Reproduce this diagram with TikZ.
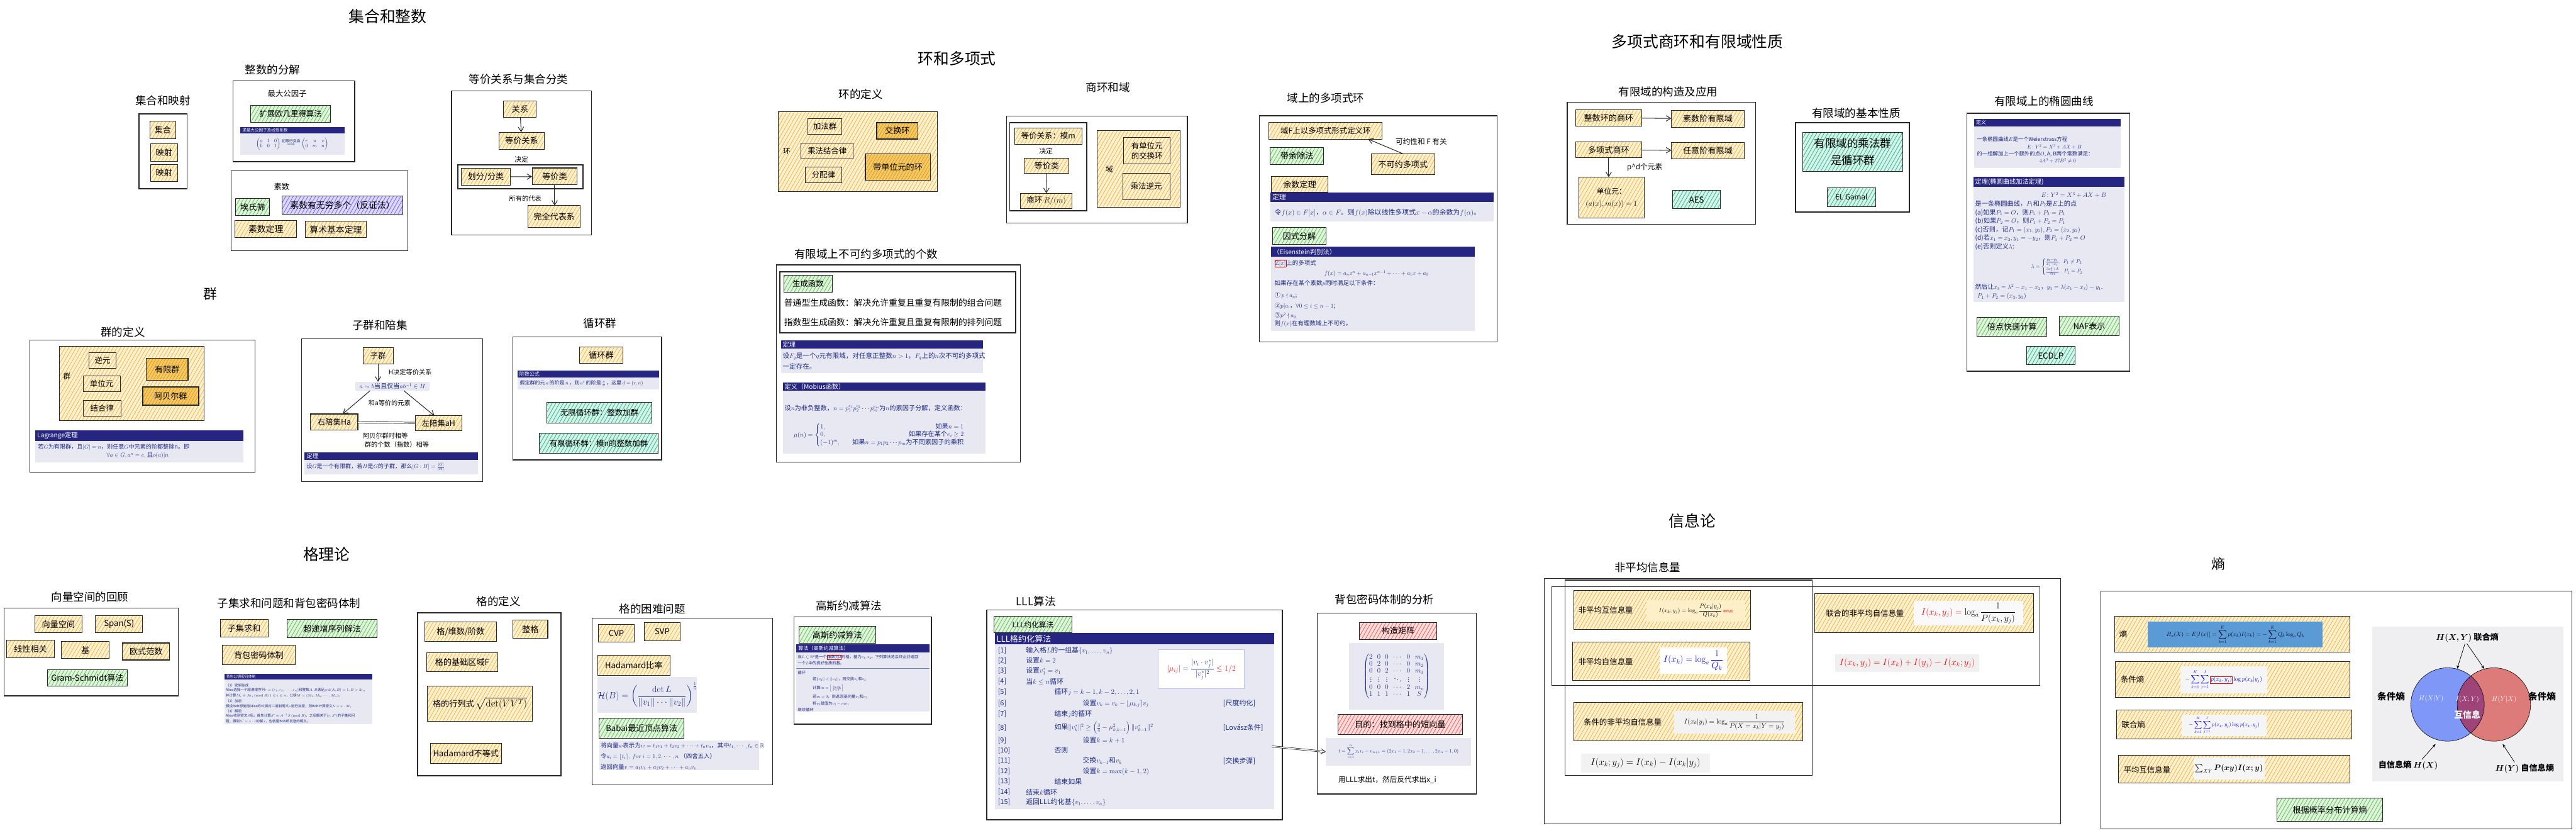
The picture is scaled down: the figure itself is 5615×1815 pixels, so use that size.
\RequirePackage{fix-cm}
\documentclass[tikz,border=0pt]{standalone}
\usepackage{amsmath,amssymb}
\usepackage[no-math]{fontspec}
\setmainfont{Noto Sans CJK SC}
\usetikzlibrary{arrows.meta,patterns.meta,calc}
\definecolor{obg}{HTML}{FDF1D2}
\definecolor{oh}{HTML}{F4B43A}
\definecolor{sobg}{HTML}{F8C85C}
\definecolor{gbg}{HTML}{E0F4DA}
\definecolor{gh}{HTML}{5BBF5E}
\definecolor{tbg}{HTML}{D4F3E9}
\definecolor{th}{HTML}{2FB48C}
\definecolor{pbg}{HTML}{DCD8FB}
\definecolor{ph}{HTML}{7361EA}
\definecolor{rbg}{HTML}{FDDCDC}
\definecolor{rh}{HTML}{EE5A5A}
\definecolor{navy}{HTML}{262682}
\definecolor{lav}{HTML}{E8E8F3}
\definecolor{tbl}{HTML}{1D2B80}
\definecolor{vgray}{HTML}{EFEFF2}
\definecolor{vblue}{HTML}{7F97F7}
\definecolor{vred}{HTML}{DD7B7B}
\definecolor{vpur}{HTML}{9E4478}
\definecolor{hblue}{HTML}{5B9BD5}
\definecolor{peach}{HTML}{FDEFC8}
\newcommand\fs[1]{\fontsize{#1}{#1}\selectfont}
\newcommand\bx[7]{\pgfmathsetmacro\qqw{#5-#3}\pgfmathsetmacro\qqh{#6-#4}\pgfmathsetmacro\qqx{(#3+#5)/2}\pgfmathsetmacro\qqy{(#4+#6)/2}\node[#1,minimum width=\qqw pt,minimum height=\qqh pt] (#2) at (\qqx,\qqy) {#7};}
\newcommand\thmbox[7]{\fill[navy] (#2,#3) rectangle (#4,#5);\node[anchor=west,text=white,font=\fs{#6},inner sep=0] (#1) at ({#2+4},{(#3+#5)/2}) {#7};}
\tikzset{
 hb/.style={draw=black!85,line width=1.4pt,inner sep=1pt,outer sep=0pt,align=center,font=\fs{18}},
 frame/.style={draw=black!85,line width=2pt,inner sep=0,outer sep=0},
 obox/.style={hb,preaction={fill=obg},pattern={Lines[angle=60,distance=7pt,line width=1.1pt]},pattern color=oh},
 sobox/.style={hb,line width=2pt,preaction={fill=sobg},pattern={Lines[angle=60,distance=6pt,line width=0.8pt]},pattern color=oh!80!black},
 gbox/.style={hb,preaction={fill=gbg},pattern={Lines[angle=60,distance=7pt,line width=1.1pt]},pattern color=gh},
 tbox/.style={hb,preaction={fill=tbg},pattern={Lines[angle=60,distance=7pt,line width=1.1pt]},pattern color=th},
 pbox/.style={hb,preaction={fill=pbg},pattern={Lines[angle=60,distance=7pt,line width=1.1pt]},pattern color=ph},
 rbox/.style={hb,preaction={fill=rbg},pattern={Lines[angle=60,distance=7pt,line width=1.1pt]},pattern color=rh},
 wbox/.style={hb},
 ttl/.style={font=\fs{34},inner sep=0},
 sub/.style={font=\fs{24},inner sep=0},
 lbl/.style={font=\fs{17},inner sep=0},
 tl/.style={anchor=west,text=tbl,inner sep=0},
 arr/.style={-{Straight Barb[length=10pt,width=12pt]},line width=1.4pt,draw=black!85},
}
\begin{document}
\begin{tikzpicture}[x=1pt,y=-1pt]
\useasboundingbox[fill=white] (0,0) rectangle (5615,1815);
% ================= 集合和整数
\node[ttl] (t1) at (845,36) {集合和整数};
\node[sub] (t1a) at (355,219) {集合和映射};
\bx{frame}{f1a}{303}{248}{408}{411}{}
\bx{obox}{a1}{327}{264}{383}{302}{集合}
\bx{obox}{a2}{328}{313}{387}{351}{映射}
\bx{obox}{a3}{328}{358}{387}{395}{映射}
\node[sub] (t1b) at (594,152) {整数的分解};
\bx{frame}{f1b}{508}{176}{773}{352}{}
\node[lbl] (b0) at (626,204) {最大公因子};
\bx{gbox,font=\fs{17}}{b1}{546}{230}{721}{266}{扩展欧几里得算法}
\fill[lav] (524,291) rectangle (751,337);
\thmbox{b2}{524}{277}{751}{291}{9}{求最大公因子及线性系数}
\node[text=tbl,font=\fs{11},inner sep=0] (b3) at (637,314) {$\begin{pmatrix}a&1&0\\b&0&1\end{pmatrix}\overset{\mbox{\fs{8}初等行变换}}{\Longrightarrow}\begin{pmatrix}r&u&v\\0&m&n\end{pmatrix}$};
\bx{frame}{f1c}{504}{372}{889}{546}{}
\node[lbl] (c0) at (614,407) {素数};
\bx{gbox}{c1}{514}{433}{588}{469}{埃氏筛}
\bx{pbox,font=\fs{19}}{c2}{615}{427}{878}{467}{素数有无穷多个（反证法）}
\bx{obox,font=\fs{19}}{c3}{512}{481}{647}{518}{素数定理}
\bx{obox,font=\fs{19}}{c4}{665}{482}{799}{518}{算术基本定理}
\node[sub] (t1d) at (1130,173) {等价关系与集合分类};
\bx{frame}{f1d}{984}{198}{1289}{512}{}
\bx{obox}{d1}{1098}{220}{1169}{256}{关系}
\bx{obox}{d2}{1088}{288}{1186}{325}{等价关系}
\draw[arr] (d1) -- (d2);
\node[lbl,font=\fs{15}] (d3) at (1137,347) {决定};
\bx{frame}{f1e}{998}{359}{1271}{411}{}
\bx{obox}{d4}{1005}{367}{1113}{404}{划分/分类}
\bx{obox}{d5}{1160}{366}{1258}{403}{等价类}
\draw[arr] (d4) -- (d5);
\bx{obox}{d6}{1151}{448}{1265}{496}{完全代表系}
\draw[arr] (d5.south) -- (d5.south |- d6.north);
\node[lbl,font=\fs{14}] (d7) at (1145,433) {所有的代表};
% ================= 群
\node[ttl,font=\fs{30}] (t2) at (459,640) {群};
\node[sub] (t2a) at (268,724) {群的定义};
\bx{frame}{f2a}{65}{741}{556}{1029}{}
\bx{obox}{e0}{130}{755}{445}{917}{}
\node[lbl,font=\fs{16}] (e0l) at (146,820) {群};
\bx{wbox,font=\fs{17}}{e1}{194}{768}{253}{803}{逆元}
\bx{wbox,font=\fs{17}}{e2}{181}{819}{262}{854}{单位元}
\bx{wbox,font=\fs{17}}{e3}{181}{872}{264}{907}{结合律}
\bx{sobox}{e4}{319}{781}{410}{829}{有限群}
\bx{sobox}{e5}{311}{843}{433}{883}{阿贝尔群}
\fill[lav] (77,961) rectangle (530,1007);
\thmbox{e6}{77}{938}{530}{961}{14}{Lagrange定理}
\node[tl,font=\fs{12.5}] (e7) at (83,975) {若$G$为有限群，且$|G|=n$，则任意$G$中元素的阶都整除n。即};
\node[text=tbl,font=\fs{13},inner sep=0] (e8) at (300,993) {$\forall a\in G, a^n=e,$ 且$o(a)|n$};
\node[sub] (t2b) at (828,708) {子群和陪集};
\bx{frame}{f2b}{657}{738}{1052}{1049}{}
\bx{obox,font=\fs{17}}{g1}{791}{758}{857}{793}{子群}
\bx{fill=lav,text=tbl,font=\fs{14},inner sep=0}{g2}{775}{832}{936}{851}{$a\sim b$当且仅当$ab^{-1}\in H$}
\draw[arr] (g1.south) -- (g1.south |- g2.north);
\node[lbl,font=\fs{14}] (g3) at (894,811) {H决定等价关系};
\bx{obox,font=\fs{17}}{g4}{677}{902}{780}{937}{右陪集Ha}
\bx{obox,font=\fs{17}}{g5}{905}{906}{1007}{938}{左陪集aH}
\draw[arr] ($(g2.south west)+(32,0)$) -- ($(g4.north east)+(-33,0)$);
\draw[arr] ($(g2.south east)+(-56,0)$) -- ($(g5.north west)+(42,0)$);
\node[lbl,font=\fs{14}] (g6) at (849,878) {和a等价的元素};
\draw[double,line width=1pt,double distance=2pt] (g4) -- (g5);
\node[lbl,font=\fs{14}] (g7) at (840,950) {阿贝尔群时相等};
\node[lbl,font=\fs{14}] (g8) at (865,969) {群的个数（指数）相等};
\fill[lav] (664,1002) rectangle (1042,1033);
\thmbox{g9}{664}{985}{1042}{1002}{13}{定理}
\node[tl,font=\fs{12.5}] (g10) at (668,1018) {设$G$是一个有限群，若$H$是$G$的子群，那么$[G:H]=\frac{|G|}{|H|}$};
% 循环群
\node[sub] (t2c) at (1308,705) {循环群};
\bx{frame}{f2c}{1118}{734}{1442}{1002}{}
\bx{obox}{h1}{1263}{756}{1358}{791}{循环群}
\fill[lav] (1128,823) rectangle (1437,849);
\thmbox{h2}{1128}{807}{1437}{823}{11}{阶数公式}
\node[tl,font=\fs{11}] (h3) at (1133,836) {假定群的元$\,a\,$的阶是$\,n\,$，则$\,a^r\,$的阶是$\,\frac{n}{d}\,$，这里$\,d=(r,n)$};
\bx{tbox,font=\fs{17}}{h4}{1192}{876}{1421}{922}{无限循环群：整数加群}
\bx{tbox,font=\fs{17}}{h5}{1176}{944}{1434}{988}{有限循环群：模n的整数加群}
% ================= 环和多项式
\node[ttl] (t3) at (2086,127) {环和多项式};
\node[sub] (t3a) at (1876,206) {环的定义};
\bx{obox}{i0}{1697}{243}{2043}{417}{}
\node[lbl,font=\fs{16}] (i0l) at (1715,329) {环};
\bx{wbox,font=\fs{17}}{i1}{1761}{258}{1835}{293}{加法群}
\bx{wbox,font=\fs{17}}{i2}{1746}{312}{1860}{346}{乘法结合律}
\bx{wbox,font=\fs{17}}{i3}{1755}{364}{1835}{398}{分配律}
\bx{sobox}{i4}{1911}{267}{2001}{303}{交换环}
\bx{sobox}{i5}{1886}{335}{2028}{393}{带单位元的环}
\node[sub] (t3b) at (2415,190) {商环和域};
\bx{frame}{f3b}{2194}{253}{2588}{486}{}
\bx{frame}{f3c}{2201}{267}{2369}{459}{}
\bx{obox,font=\fs{17}}{j1}{2212}{279}{2358}{314}{等价关系：模m}
\node[lbl,font=\fs{15}] (j2) at (2280,329) {决定};
\bx{obox}{j3}{2233}{345}{2330}{378}{等价类}
\bx{obox,font=\fs{17}}{j4}{2224}{421}{2337}{454}{商环 $R/(m)$}
\draw[arr] (j3) -- (j4);
\bx{obox}{j5}{2392}{285}{2572}{452}{}
\node[lbl,font=\fs{16}] (j5l) at (2418,369) {域};
\bx{wbox,font=\fs{17}}{j6}{2449}{300}{2551}{357}{有单位元\\[4pt]的交换环}
\bx{wbox,font=\fs{17}}{j7}{2447}{377}{2550}{435}{乘法逆元}
\node[sub] (t3c) at (1888,554) {有限域上不可约多项式的个数};
\bx{frame}{f3d}{1692}{577}{2224}{1007}{}
\bx{frame}{f3e}{1700}{592}{2214}{725}{}
\bx{gbox,font=\fs{17}}{k1}{1709}{600}{1814}{637}{生成函数}
\node[anchor=west,inner sep=0,font=\fs{19}] (k2) at (1709,660) {普通型生成函数：解决允许重复且重复有限制的组合问题};
\node[anchor=west,inner sep=0,font=\fs{19}] (k3) at (1709,702) {指数型生成函数：解决允许重复且重复有限制的排列问题};
\fill[lav] (1702,760) rectangle (2143,813);
\thmbox{k4}{1702}{741}{2143}{760}{14}{定理}
\node[tl,font=\fs{14.5}] (k5) at (1706,776) {设$F_q$是一个$q$元有限域，对任意正整数$n>1$，$F_q$上的$n$次不可约多项式};
\node[tl,font=\fs{14.5}] (k6) at (1706,798) {一定存在。};
\fill[lav] (1706,851) rectangle (2148,988);
\thmbox{k7}{1706}{833}{2148}{851}{14}{定义（Mobius函数）}
\node[tl,font=\fs{14}] (k8) at (1710,890) {设$n$为非负整数，$n=p_1^{e_1}p_2^{e_2}\cdots p_m^{e_m}$为$n$的素因子分解，定义函数：};
\node[tl,font=\fs{14}] (k9) at (1730,948) {$\mu(n)=\begin{cases}1, & \hfill\text{如果}n=1\\ 0, & \hfill\text{如果存在某个}e_i\geq 2\\ (-1)^m, & \quad\text{如果}n=p_1p_2\cdots p_m\text{为不同素因子的乘积}\end{cases}$};
% 域上的多项式环
\node[sub] (t3d) at (2890,214) {域上的多项式环};
\bx{frame}{f3f}{2745}{252}{3263}{745}{}
\bx{obox,font=\fs{17}}{m1}{2766}{267}{3013}{303}{域F上以多项式形式定义环}
\bx{gbox}{m2}{2769}{321}{2885}{358}{带余除法}
\bx{obox}{m3}{2989}{335}{3127}{381}{不可约多项式}
\draw[arr] (m3.north) -- ($(m1.south east)+(-31,0)$);
\node[lbl,font=\fs{16}] (m4) at (3098,308) {可约性和 F 有关};
\bx{obox}{m5}{2771}{385}{2895}{419}{余数定理}
\fill[lav] (2769,440) rectangle (3256,483);
\thmbox{m6}{2769}{419}{3256}{440}{15}{定理}
\node[tl,font=\fs{15}] (m7) at (2778,463) {令$f(x)\in F[x]$，$\alpha\in F$。则$f(x)$除以线性多项式$x-\alpha$的余数为$f(\alpha)$。};
\bx{gbox}{m8}{2774}{496}{2890}{533}{因式分解}
\fill[lav] (2771,559) rectangle (3214,721);
\thmbox{m9}{2771}{538}{3214}{559}{14}{（Eisenstein判别法）}
\node[tl,font=\fs{13}] (m10) at (2778,574) {{\fboxsep=1pt\fcolorbox{red}{lav}{$\mathbb{Z}[x]$}}上的多项式};
\node[text=tbl,inner sep=0,font=\fs{13}] (m11) at (3000,596) {$f(x)=a_nx^n+a_{n-1}x^{n-1}+\cdots+a_1x+a_0$};
\node[tl,font=\fs{13}] (m12) at (2778,617) {如果存在某个素数$p$同时满足以下条件：};
\node[tl,font=\fs{13}] (m13) at (2778,644) {①$\,p\nmid a_n$;};
\node[tl,font=\fs{13}] (m14) at (2778,667) {②$p|a_i$，$\forall 0\leq i\leq n-1$;};
\node[tl,font=\fs{13}] (m15) at (2778,688) {③$p^2\nmid a_0$};
\node[tl,font=\fs{13}] (m16) at (2778,705) {则$f(x)$在有理数域上不可约。};
% ================= 多项式商环和有限域性质
\node[ttl] (t4) at (3700,90) {多项式商环和有限域性质};
\node[sub] (t4a) at (3636,200) {有限域的构造及应用};
\bx{frame}{f4a}{3416}{223}{3827}{489}{}
\bx{obox}{n1}{3435}{239}{3578}{275}{整数环的商环}
\bx{obox}{n2}{3643}{240}{3802}{277}{素数阶有限域}
\bx{obox}{n3}{3435}{309}{3578}{344}{多项式商环}
\bx{obox}{n4}{3643}{310}{3802}{346}{任意阶有限域}
\draw[arr] (n1) -- (n2);
\draw[arr] (n3) -- (n4);
\bx{obox,font=\fs{16}}{n5}{3441}{386}{3584}{475}{单位元：\\[10pt]$(a(x),m(x))=1$}
\draw[arr] (n3.south) -- (n3.south |- n5.north);
\node[lbl,font=\fs{16}] (n6) at (3585,364) {p\^{}d个元素};
\bx{tbox}{n7}{3646}{415}{3750}{455}{AES}
\node[sub] (t4b) at (4046,246) {有限域的基本性质};
\bx{frame}{f4b}{3914}{267}{4162}{462}{}
\bx{tbox,font=\fs{24}}{n8}{3930}{288}{4147}{374}{有限域的乘法群\\[12pt]是循环群}
\bx{tbox,font=\fs{16}}{n9}{3983}{409}{4088}{450}{EL Gamal}
\node[sub] (t4c) at (4455,221) {有限域上的椭圆曲线};
\bx{frame}{f4c}{4287}{247}{4642}{809}{}
\fill[lav] (4303,275) rectangle (4623,366);
\thmbox{q1}{4303}{259}{4623}{275}{11}{定义}
\node[tl,font=\fs{11.5}] (q2) at (4309,304) {一条椭圆曲线$E$是一个Weierstrass方程};
\node[text=tbl,inner sep=0,font=\fs{11.5}] (q3) at (4478,320) {$E\colon Y^2=X^3+AX+B$};
\node[tl,font=\fs{11.5}] (q4) at (4309,336) {的一组解加上一个额外的点$O$, A, B两个常数满足：};
\node[text=tbl,inner sep=0,font=\fs{11.5}] (q5) at (4485,351) {$4A^3+27B^2\neq 0$};
\fill[lav] (4301,407) rectangle (4630,658);
\thmbox{q6}{4301}{385}{4630}{407}{14}{定理(椭圆曲线加法定理)}
\node[text=tbl,inner sep=0,font=\fs{14}] (q7) at (4520,425) {$E\colon Y^2=X^3+AX+B$};
\node[tl,font=\fs{14}] (q8) at (4305,444) {是一条椭圆曲线，$P_1$和$P_2$是$E$上的点};
\node[tl,font=\fs{14}] (q9) at (4305,463) {(a)如果$P_1=O$，则$P_1+P_2=P_2$};
\node[tl,font=\fs{14}] (q10) at (4305,482) {(b)如果$P_2=O$，则$P_1+P_2=P_1$};
\node[tl,font=\fs{14}] (q11) at (4305,501) {(c)否则，记$P_1=(x_1,y_1),P_2=(x_2,y_2)$};
\node[tl,font=\fs{14}] (q12) at (4305,519) {(d)若$x_1=x_2,y_1=-y_2$，则$P_1+P_2=O$};
\node[tl,font=\fs{14}] (q13) at (4305,538) {(e)否则定义$\lambda$:};
\node[text=tbl,inner sep=0,font=\fs{12}] (q14) at (4490,582) {$\lambda=\begin{cases}\frac{y_2-y_1}{x_2-x_1},\ \ P_1\neq P_2\\[4pt] \frac{3x_1^2+A}{2y_1},\ \ P_1=P_2\end{cases}$};
\node[tl,font=\fs{13.5}] (q15) at (4305,626) {然后让$x_3=\lambda^2-x_1-x_2$，$y_3=\lambda(x_1-x_3)-y_1$.};
\node[tl,font=\fs{14}] (q16) at (4310,646) {$P_1+P_2=(x_3,y_3)$};
\bx{gbox}{q17}{4309}{691}{4462}{733}{倍点快速计算}
\bx{gbox}{q18}{4489}{689}{4619}{732}{NAF表示}
\bx{tbox}{q19}{4417}{755}{4523}{795}{ECDLP}
% ================= 格理论
\node[ttl] (t5) at (712,1208) {格理论};
\node[sub] (t5a) at (196,1300) {向量空间的回顾};
\bx{frame}{f5a}{9}{1325}{389}{1516}{}
\bx{obox}{r1}{76}{1342}{179}{1379}{向量空间}
\bx{obox}{r2}{208}{1341}{311}{1378}{Span(S)}
\bx{obox}{r3}{15}{1395}{118}{1433}{线性相关}
\bx{obox}{r4}{134}{1398}{238}{1435}{基}
\bx{obox}{r5}{267}{1401}{370}{1438}{欧式范数}
\bx{gbox}{r6}{103}{1459}{278}{1495}{Gram-Schmidt算法}
\node[sub] (t5b) at (630,1315) {子集求和问题和背包密码体制};
\bx{obox}{s1}{480}{1350}{584}{1388}{子集求和}
\bx{gbox}{s2}{626}{1349}{822}{1390}{超递增序列解法}
\bx{obox}{s3}{484}{1406}{644}{1448}{背包密码体制}
\fill[lav] (489,1480) rectangle (812,1578);
\thmbox{s4}{489}{1468}{812}{1480}{8}{背包公钥密码体制}
\node[tl,font=\fs{7.6}] (s5) at (492,1493) {（1）密钥生成};
\node[tl,font=\fs{7.6}] (s6) at (492,1504) {Alice选择一个超递增序列$r=(r_1,r_2,\cdots,r_n)$和整数$A,B$满足$\gcd(A,B)=1,B>2r_n$};
\node[tl,font=\fs{7.6}] (s7) at (492,1516) {并计算$M_i\equiv Ar_i\ (\mathrm{mod}\ B)\ 1\leq i\leq n$，公钥$M=(M_1,M_2,\cdots,M_n)$。};
\node[tl,font=\fs{7.6}] (s8) at (492,1527) {（2）加密};
\node[tl,font=\fs{7.6}] (s9) at (492,1538) {假设Bob想使用Alice的公钥对二进制明文$x$进行加密，则Bob计算密文$S=x\cdot M$。};
\node[tl,font=\fs{7.6}] (s10) at (492,1549) {（3）解密};
\node[tl,font=\fs{7.6}] (s11) at (492,1560) {Alice收到密文$S$后，首先计算$S'\equiv A^{-1}S\ (\mathrm{mod}\ B)$，之后解关于$(r,S')$的子集和问};
\node[tl,font=\fs{7.6}] (s12) at (492,1571) {题，得到$S'=x\cdot r$的解$x$，也就是Bob所发送的明文。};
\node[sub] (t5c) at (1087,1310) {格的定义};
\bx{frame}{f5c}{910}{1335}{1223}{1690}{}
\bx{obox}{u1}{926}{1355}{1082}{1398}{格/维数/阶数}
\bx{obox}{u2}{1118}{1351}{1194}{1391}{整格}
\bx{obox}{u3}{930}{1422}{1085}{1464}{格的基础区域F}
\bx{obox}{u4}{932}{1495}{1160}{1572}{格的行列式\ \fs{22}$\sqrt{\det(VV^T)}$}
\bx{obox}{u5}{938}{1620}{1093}{1664}{Hadamard不等式}
\node[sub] (t5d) at (1422,1327) {格的困难问题};
\bx{frame}{f5d}{1291}{1347}{1684}{1710}{}
\bx{obox}{w1}{1304}{1360}{1383}{1399}{CVP}
\bx{obox}{w2}{1404}{1356}{1483}{1396}{SVP}
\bx{obox}{w3}{1303}{1428}{1460}{1472}{Hadamard比率}
\bx{fill=lav,text=tbl,font=\fs{20},inner sep=0}{w4}{1304}{1475}{1518}{1553}{$\mathcal{H}(B)=\left(\dfrac{\det L}{\|v_1\|\cdots\|v_2\|}\right)^{\frac{1}{n}}$}
\bx{gbox}{w5}{1306}{1565}{1491}{1609}{Babai最近顶点算法}
\fill[lav] (1306,1613) rectangle (1655,1678);
\node[tl,font=\fs{13}] (w6) at (1309,1625) {将向量$w$表示为$w=t_1v_1+t_2v_2+\cdots+t_nv_n$，其中$t_1,\cdots,t_n\in\mathbb{R}$};
\node[tl,font=\fs{13}] (w7) at (1309,1648) {令$a_i=\lfloor t_i\rceil,\ for\ i=1,2,\cdots,n$ （四舍五入）};
\node[tl,font=\fs{13}] (w8) at (1309,1671) {返回向量$v=a_1v_1+a_2v_2+\cdots+a_nv_n$};
\node[sub] (t5e) at (1850,1320) {高斯约减算法};
\bx{frame}{f5e}{1731}{1344}{2030}{1578}{}
\bx{gbox}{x1}{1741}{1365}{1909}{1402}{高斯约减算法}
\fill[lav] (1736,1422) rectangle (2026,1551);
\thmbox{x2}{1736}{1404}{2026}{1422}{11}{算法（高斯约减算法）}
\node[tl,font=\fs{8.6}] (x3) at (1739,1432) {设$L\subset\mathbb{R}^2$是一个{\fboxsep=0.5pt\fcolorbox{red}{lav}{维数为2}}的格，基为$v_1,v_2$。下列算法将会终止并返回};
\node[tl,font=\fs{8.6}] (x4) at (1739,1445) {一个$L$中的良好性质的基。};
\draw[tbl!60,line width=0.6pt] (1736,1456) -- (2026,1456);
\node[tl,font=\fs{8.6}] (x5) at (1739,1465) {循环};
\node[tl,font=\fs{8.6}] (x6) at (1771,1480) {若$\|v_2\|<\|v_1\|$，则交换$v_1$和$v_2$};
\node[tl,font=\fs{8.6}] (x7) at (1771,1499) {计算$m=\left\lfloor\frac{v_1\cdot v_2}{\|v_1\|^2}\right\rceil$};
\node[tl,font=\fs{8.6}] (x8) at (1771,1518) {若$m=0$，则返回基向量$v_1$和$v_2$};
\node[tl,font=\fs{8.6}] (x9) at (1771,1533) {将$v_2$赋值为$v_2-mv_1$};
\node[tl,font=\fs{8.6}] (x10) at (1739,1546) {继续循环};
% LLL
\node[sub] (t5f) at (2258,1310) {LLL算法};
\bx{frame}{f5f}{2151}{1329}{2795}{1786}{}
\bx{gbox,font=\fs{16}}{y0}{2167}{1343}{2336}{1379}{LLL约化算法}
\fill[lav] (2168,1404) rectangle (2777,1763);
\thmbox{y1}{2168}{1379}{2777}{1404}{18}{LLL格约化算法}
\foreach \yy/\lab in {1418/1,1439/2,1462/3,1485/4,1508/5,1533/6,1556/7,1586/8,1613/9,1635/10,1658/11,1681/12,1703/13,1726/14,1748/15}
  \node[tl,font=\fs{15}] (yl\lab) at (2175,\yy) {[\lab]};
\node[tl,font=\fs{15}] (yt1) at (2236,1418) {输入格$L$的一组基$\{v_1,\ldots,v_n\}$};
\node[tl,font=\fs{15}] (yt2) at (2236,1439) {设置$k=2$};
\node[tl,font=\fs{15}] (yt3) at (2236,1462) {设置$v_1^*=v_1$};
\node[tl,font=\fs{15}] (yt4) at (2236,1485) {当$k\leq n$循环};
\node[tl,font=\fs{15}] (yt5) at (2298,1508) {循环$j=k-1,k-2,\ldots,2,1$};
\node[tl,font=\fs{15}] (yt6) at (2360,1533) {设置$v_k=v_k-\lfloor\mu_{k,j}\rceil v_j$};
\node[tl,font=\fs{15}] (yt7) at (2298,1556) {结束$j$的循环};
\node[tl,font=\fs{15}] (yt8) at (2298,1586) {如果$\|v_k^*\|^2\geq\left(\frac{3}{4}-\mu_{k,k-1}^2\right)\|v_{k-1}^*\|^2$};
\node[tl,font=\fs{15}] (yt9) at (2360,1613) {设置$k=k+1$};
\node[tl,font=\fs{15}] (yt10) at (2298,1635) {否则};
\node[tl,font=\fs{15}] (yt11) at (2360,1658) {交换$v_{k-1}$和$v_k$};
\node[tl,font=\fs{15}] (yt12) at (2360,1681) {设置$k=\max(k-1,2)$};
\node[tl,font=\fs{15}] (yt13) at (2298,1703) {结束如果};
\node[tl,font=\fs{15}] (yt14) at (2236,1726) {结束$k$循环};
\node[tl,font=\fs{15}] (yt15) at (2236,1748) {返回LLL约化基$\{v_1,\ldots,v_n\}$};
\node[tl,font=\fs{15}] (yr1) at (2666,1533) {[尺度约化]};
\node[tl,font=\fs{15}] (yr2) at (2666,1586) {[Lovász条件]};
\node[tl,font=\fs{15}] (yr3) at (2666,1658) {[交换步骤]};
\bx{fill=white,draw=blue!25,line width=1.5pt,font=\fs{17},inner sep=0}{y2}{2525}{1416}{2712}{1500}{$\color{red}|\mu_{ij}|\color{tbl}=\dfrac{|v_i\cdot v_j^*|}{|v_j^*|^2}\color{red}\leq 1/2$}
% 背包密码体制的分析
\node[sub] (t5g) at (3018,1306) {背包密码体制的分析};
\bx{frame}{f5g}{2871}{1336}{3218}{1730}{}
\bx{rbox}{z1}{2963}{1356}{3132}{1393}{构造矩阵}
\bx{fill=lav,text=tbl,font=\fs{15},inner sep=0}{z2}{2941}{1401}{3147}{1546}{$\begin{pmatrix}2&0&0&\cdots&0&m_1\\0&2&0&\cdots&0&m_2\\0&0&2&\cdots&0&m_3\\ \vdots&\vdots&\vdots&\ddots&\vdots&\vdots\\0&0&0&\cdots&2&m_n\\1&1&1&\cdots&1&S\end{pmatrix}$}
\bx{rbox}{z3}{2916}{1556}{3188}{1600}{目的：找到格中的短向量}
\bx{fill=lav,text=tbl,font=\fs{11},inner sep=0}{z4}{2890}{1608}{3207}{1668}{$t=\displaystyle\sum_{i=1}^{n}x_iv_i-v_{n+1}=(2x_1-1,2x_2-1,\ldots,2x_n-1,0)$}
\node[lbl,font=\fs{16}] (z5) at (3024,1699) {用LLL求出t，然后反代求出x\_i};
\draw[arr,double,double distance=2pt,line width=1pt] ($(f5f.east)+(-22,69)$) -- (z4.west);
% ================= 信息论
\node[ttl] (t6) at (3689,1135) {信息论};
\node[sub] (t6a) at (3591,1236) {非平均信息量};
\bx{frame,line width=1.6pt}{f6a}{3366}{1260}{4491}{1795}{}
\bx{frame,line width=1.6pt}{f6b}{3411}{1264}{3950}{1689}{}
\bx{frame,line width=1.6pt}{f6c}{3382}{1278}{4446}{1494}{}
\bx{obox}{o1}{3430}{1287}{3816}{1372}{}
\node[lbl] (o1l) at (3500,1330) {非平均互信息量};
\bx{fill=peach,font=\fs{13},inner sep=0}{o1f}{3589}{1308}{3804}{1354}{$I(x_k;y_j)=\log_a\dfrac{P(x_k|y_j)}{Q(x_k)}$\ {\color{red}\fs{6}收到y前}}
\bx{obox}{o2}{3428}{1399}{3815}{1483}{}
\node[lbl] (o2l) at (3500,1442) {非平均自信息量};
\bx{fill=white,text=blue,font=\fs{20},inner sep=0}{o2f}{3617}{1410}{3764}{1468}{$I(x_k)=\log_a\dfrac{1}{Q_k}$}
\bx{obox}{o3}{3956}{1293}{4432}{1378}{}
\node[lbl] (o3l) at (4065,1336) {联合的非平均自信息量};
\bx{fill=white!95!gray,font=\fs{20},inner sep=0}{o3f}{4171}{1309}{4410}{1363}{$\color{red}I(x_k,y_j)=\color{black}\log_a\dfrac{1}{P(x_k,y_j)}$}
\bx{fill=black!6,text=red,font=\fs{20},inner sep=0}{o4}{4000}{1425}{4314}{1464}{$I(x_k,y_j)=I(x_k)+I(y_j)-I(x_k;y_j)$}
\bx{obox}{o5}{3430}{1530}{3929}{1614}{}
\node[lbl] (o5l) at (3537,1573) {条件的非平均自信息量};
\bx{fill=black!5,font=\fs{15},inner sep=0}{o5f}{3649}{1549}{3912}{1599}{$I(x_k|y_j)=\log_a\dfrac{1}{P(X=x_k|Y=y_j)}$}
\bx{fill=black!5,font=\fs{21},inner sep=0}{o6}{3446}{1642}{3727}{1683}{$I(x_k;y_j)=I(x_k)-I(x_k|y_j)$}
% ================= 熵
\node[ttl,font=\fs{30}] (t7) at (4835,1228) {熵};
\bx{frame,line width=1.6pt}{f7}{4579}{1288}{5606}{1806}{}
\bx{obox}{p1}{4610}{1343}{5122}{1421}{}
\node[lbl] (p1l) at (4628,1382) {熵};
\bx{fill=hblue,text=black!85!blue,font=\fs{13},inner sep=0}{p1f}{4682}{1355}{5063}{1411}{$H_a(X)=E[I(x)]=\displaystyle\sum_{k=1}^{K}p(x_k)I(x_k)=-\sum_{k=1}^{K}Q_k\log_aQ_k$}
\bx{obox}{p2}{4611}{1441}{5122}{1520}{}
\node[lbl] (p2l) at (4648,1480) {条件熵};
\bx{fill=black!4,text=blue,font=\fs{13},inner sep=0}{p2f}{4752}{1452}{4942}{1511}{$-\displaystyle\sum_{k=1}^{K}\sum_{j=1}^{J}{\fboxsep=1pt\fcolorbox{red}{black!4}{$p(x_k,y_j)$}}\log p(x_k|y_j)$}
\bx{obox}{p3}{4613}{1547}{5126}{1610}{}
\node[lbl] (p3l) at (4650,1579) {联合熵};
\bx{fill=black!4,text=blue,font=\fs{12},inner sep=0}{p3f}{4756}{1557}{4940}{1604}{$-\displaystyle\sum_{k=1}^{K}\sum_{j=1}^{J}p(x_k,y_j)\log p(x_k,y_j)$}
\bx{obox}{p4}{4618}{1646}{5122}{1706}{}
\node[lbl] (p4l) at (4680,1677) {平均互信息量};
\bx{fill=black!4,font=\fs{17},inner sep=0}{p4f}{4781}{1651}{4936}{1699}{$\sum_{XY}\boldsymbol{P(xy)I(x;y)}$}
\bx{fill=vgray,inner sep=0}{vb}{5171}{1366}{5587}{1703}{}
\node[circle,fill=vblue,minimum size=160pt,inner sep=0] (c1) at (5335,1535) {};
\node[circle,fill=vred,minimum size=160pt,inner sep=0] (c2) at (5436,1535) {};
\begin{scope}
\clip (5335,1535) circle (80pt);
\fill[vpur] (5436,1535) circle (80pt);
\end{scope}
\draw[black,line width=0.8pt] (5335,1535) circle (80pt) (5436,1535) circle (80pt);
\node[font=\fs{18}\bfseries,inner sep=0] (v1) at (5378,1390) {$\boldsymbol{H(X,Y)}$ 联合熵};
\draw[-{Stealth[length=8pt]},line width=1pt] ($(v1.south)+(-5,2)$) -- (c1.75);
\draw[-{Stealth[length=8pt]},line width=1pt] ($(v1.south)+(-1,2)$) -- (c2.105);
\node[font=\fs{20}\bfseries,inner sep=0] (v2) at (5212,1517) {条件熵};
\node[font=\fs{20}\bfseries,inner sep=0] (v3) at (5541,1517) {条件熵};
\node[text=white,font=\fs{15},inner sep=0] (v4) at (5299,1523) {$H(X|Y)$};
\node[text=white,font=\fs{15},inner sep=0] (v5) at (5378,1524) {$I(X;Y)$};
\node[text=white,font=\fs{15},inner sep=0] (v6) at (5458,1524) {$H(Y|X)$};
\node[text=white,font=\fs{19}\bfseries,inner sep=0] (v7) at (5378,1558) {互信息};
\node[font=\fs{18}\bfseries,inner sep=0] (v8) at (5249,1668) {自信息熵 $\boldsymbol{H(X)}$};
\node[font=\fs{18}\bfseries,inner sep=0] (v9) at (5503,1674) {$\boldsymbol{H(Y)}$ 自信息熵};
\coordinate (va3) at (5309,1621);
\coordinate (va4) at (5455,1621);
\draw[-{Stealth[length=8pt]},line width=1pt] ($(v8.north)+(30,-3)$) -- (va3);
\draw[-{Stealth[length=8pt]},line width=1pt] ($(v9.north)+(-22,-3)$) -- (va4);
\bx{gbox}{p5}{4963}{1739}{5194}{1790}{根据概率分布计算熵}
\end{tikzpicture}
\end{document}
